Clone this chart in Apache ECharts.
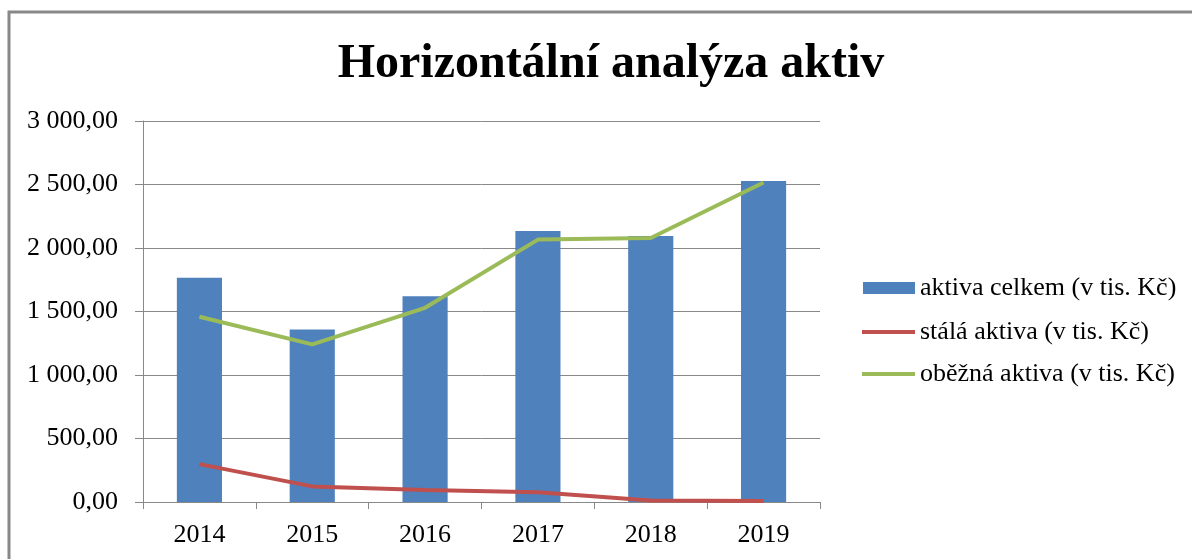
<!DOCTYPE html>
<html>
<head>
<meta charset="utf-8">
<script src="https://cdn.jsdelivr.net/npm/echarts@6/dist/echarts.min.js"></script>
<style>
  html, body { margin: 0; padding: 0; background: #fff; }
  #aktiva { width: 1192px; height: 559px; }
</style>
</head>
<body>
<div id="aktiva"></div>
<script>
  // horizontální analýza aktiv (v tis. Kč)
  let roky = ['2014', '2015', '2016', '2017', '2018', '2019']
  let data = {
    celkem: [1765, 1359, 1620, 2134, 2095, 2527],
    stala: [298, 123, 94, 76, 12, 8],
    obezna: [1459, 1241, 1529, 2066, 2079, 2516]
  }
  let font = 'Liberation Serif, Times New Roman, serif'
  let fmt = v => {
    let parts = v.toFixed(2).split('.')
    return parts[0].replace(/\B(?=(\d{3})+(?!\d))/g, ' ') + ',' + parts[1]
  }

  let myChart = echarts.init(document.getElementById('aktiva'))
  let option = {
    backgroundColor: '#fff',
    animation: false,
    title: {
      text: 'Horizontální analýza aktiv',
      left: 606,
      textAlign: 'center',
      top: 36,
      textStyle: { fontFamily: font, fontSize: 48, fontWeight: 'bold', color: '#000' }
    },
    graphic: [
      {
        type: 'rect',
        shape: { x: 9, y: 12, width: 1300, height: 700 },
        style: { fill: 'none', stroke: '#888', lineWidth: 3 },
        silent: true
      }
    ],
    legend: [
      {
        data: [{ name: 'aktiva celkem (v tis. Kč)', icon: 'rect' }],
        left: 858,
        top: 270,
        itemWidth: 52,
        itemHeight: 12,
        itemGap: 4,
        textStyle: { fontFamily: font, fontSize: 26, color: '#000' }
      },
      {
        data: [
          { name: 'stálá aktiva (v tis. Kč)', icon: 'rect' },
          { name: 'oběžná aktiva (v tis. Kč)', icon: 'rect' }
        ],
        orient: 'vertical',
        left: 857,
        top: 314,
        itemWidth: 53,
        itemHeight: 4,
        itemGap: 16,
        textStyle: { fontFamily: font, fontSize: 26, color: '#000' }
      }
    ],
    grid: { left: 143, right: 372, top: 121, bottom: 57 },
    xAxis: {
      type: 'category',
      data: roky,
      axisLine: { lineStyle: { color: '#888', width: 1 } },
      axisTick: { show: true, alignWithLabel: false, length: 7, lineStyle: { color: '#888' } },
      axisLabel: { fontFamily: font, fontSize: 26, color: '#000', margin: 20 }
    },
    yAxis: {
      type: 'value',
      min: 0,
      max: 3000,
      interval: 500,
      axisLine: { show: true, lineStyle: { color: '#888' } },
      axisTick: { show: true, length: 8, lineStyle: { color: '#888' } },
      axisLabel: { fontFamily: font, fontSize: 26, color: '#000', margin: 25, formatter: fmt },
      splitLine: { lineStyle: { color: '#888', width: 1 } }
    },
    series: [
      {
        name: 'aktiva celkem (v tis. Kč)',
        type: 'bar',
        data: data.celkem,
        barWidth: '40%',
        itemStyle: { color: '#4F81BD' }
      },
      {
        name: 'stálá aktiva (v tis. Kč)',
        type: 'line',
        data: data.stala,
        symbol: 'none',
        lineStyle: { color: '#C0504D', width: 4 },
        itemStyle: { color: '#C0504D' }
      },
      {
        name: 'oběžná aktiva (v tis. Kč)',
        type: 'line',
        data: data.obezna,
        symbol: 'none',
        lineStyle: { color: '#9BBB59', width: 4 },
        itemStyle: { color: '#9BBB59' }
      }
    ]
  }
  myChart.setOption(option)
</script>
</body>
</html>
